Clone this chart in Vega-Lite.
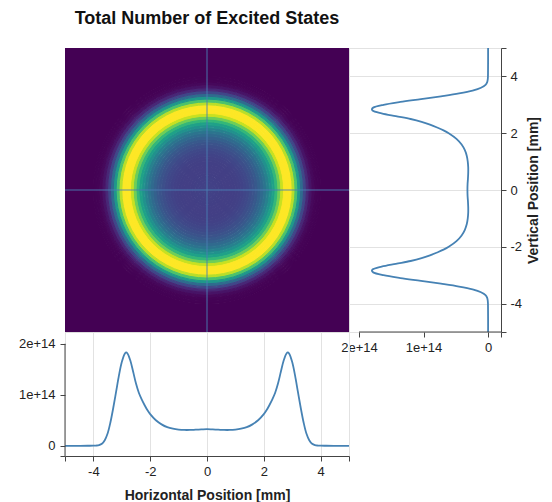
{
  "$schema": "https://vega.github.io/schema/vega-lite/v6.json",
  "padding": {"left": 17, "top": 9, "right": 0, "bottom": 0},
  "config": {
    "font": "Liberation Sans",
    "view": {"stroke": "#ddd"},
    "axis": {"labelFontSize": 13, "labelPadding": 4, "titleFontSize": 14, "titleFontWeight": "bold", "labelColor": "#222", "titleColor": "#222", "domainColor": "#444", "tickColor": "#444", "gridColor": "#e2e2e2", "tickSize": 5}
  },
  "datasets": {
    "rings": [
      {"r0": 0.0, "r1": 0.1, "v": 3.3e13}, {"r0": 0.1, "r1": 0.2, "v": 3.28e13}, {"r0": 0.2, "r1": 0.3, "v": 3.25e13},
      {"r0": 0.3, "r1": 0.4, "v": 3.2e13}, {"r0": 0.4, "r1": 0.5, "v": 3.17e13}, {"r0": 0.5, "r1": 0.6, "v": 3.13e13},
      {"r0": 0.6, "r1": 0.7, "v": 3.1e13}, {"r0": 0.7, "r1": 0.8, "v": 3.1e13}, {"r0": 0.8, "r1": 0.9, "v": 3.1e13},
      {"r0": 0.9, "r1": 1.0, "v": 3.13e13}, {"r0": 1.0, "r1": 1.1, "v": 3.18e13}, {"r0": 1.1, "r1": 1.2, "v": 3.25e13},
      {"r0": 1.2, "r1": 1.3, "v": 3.35e13}, {"r0": 1.3, "r1": 1.4, "v": 3.5e13}, {"r0": 1.4, "r1": 1.5, "v": 3.7e13},
      {"r0": 1.5, "r1": 1.6, "v": 4.0e13}, {"r0": 1.6, "r1": 1.7, "v": 4.3e13}, {"r0": 1.7, "r1": 1.8, "v": 4.7e13},
      {"r0": 1.8, "r1": 1.9, "v": 5.2e13}, {"r0": 1.9, "r1": 2.0, "v": 5.8e13}, {"r0": 2.0, "r1": 2.1, "v": 6.5e13},
      {"r0": 2.1, "r1": 2.2, "v": 7.4e13}, {"r0": 2.2, "r1": 2.3, "v": 8.5e13}, {"r0": 2.3, "r1": 2.4, "v": 9.7e13},
      {"r0": 2.4, "r1": 2.5, "v": 1.13e14}, {"r0": 2.5, "r1": 2.6, "v": 1.33e14}, {"r0": 2.6, "r1": 2.7, "v": 1.56e14},
      {"r0": 2.7, "r1": 2.8, "v": 1.75e14}, {"r0": 2.8, "r1": 2.9, "v": 1.83e14}, {"r0": 2.9, "r1": 3.0, "v": 1.74e14},
      {"r0": 3.0, "r1": 3.1, "v": 1.52e14}, {"r0": 3.1, "r1": 3.2, "v": 1.22e14}, {"r0": 3.2, "r1": 3.3, "v": 9.0e13},
      {"r0": 3.3, "r1": 3.4, "v": 5.9e13}, {"r0": 3.4, "r1": 3.5, "v": 3.5e13}, {"r0": 3.5, "r1": 3.6, "v": 1.8e13},
      {"r0": 3.6, "r1": 3.7, "v": 8e12}, {"r0": 3.7, "r1": 3.8, "v": 3e12}, {"r0": 3.8, "r1": 3.9, "v": 1e12},
      {"r0": 3.9, "r1": 4.0, "v": 3e11}, {"r0": 4.0, "r1": 7.2, "v": 0}
    ],
    "hprof": [
      {"x": -5, "v": 0}, {"x": -4.6, "v": 0}, {"x": -4.2, "v": 1e11}, {"x": -4.0, "v": 2e11}, {"x": -3.9, "v": 5e11},
      {"x": -3.8, "v": 1.4e12}, {"x": -3.7, "v": 4e12}, {"x": -3.6, "v": 1.1e13}, {"x": -3.5, "v": 2.4e13}, {"x": -3.4, "v": 4.6e13},
      {"x": -3.3, "v": 7.45e13}, {"x": -3.2, "v": 1.06e14}, {"x": -3.1, "v": 1.38e14}, {"x": -3.0, "v": 1.64e14}, {"x": -2.9, "v": 1.8e14},
      {"x": -2.85, "v": 1.83e14}, {"x": -2.8, "v": 1.81e14}, {"x": -2.7, "v": 1.67e14}, {"x": -2.6, "v": 1.45e14}, {"x": -2.5, "v": 1.22e14},
      {"x": -2.4, "v": 1.04e14}, {"x": -2.3, "v": 9.1e13}, {"x": -2.2, "v": 8.0e13}, {"x": -2.1, "v": 7.0e13}, {"x": -2.0, "v": 6.2e13},
      {"x": -1.8, "v": 5.0e13}, {"x": -1.6, "v": 4.2e13}, {"x": -1.4, "v": 3.65e13}, {"x": -1.2, "v": 3.35e13}, {"x": -1.0, "v": 3.18e13},
      {"x": -0.8, "v": 3.1e13}, {"x": -0.6, "v": 3.1e13}, {"x": -0.4, "v": 3.15e13}, {"x": -0.2, "v": 3.2e13}, {"x": 0, "v": 3.25e13},
      {"x": 0.2, "v": 3.2e13}, {"x": 0.4, "v": 3.15e13}, {"x": 0.6, "v": 3.1e13}, {"x": 0.8, "v": 3.1e13}, {"x": 1.0, "v": 3.18e13},
      {"x": 1.2, "v": 3.35e13}, {"x": 1.4, "v": 3.65e13}, {"x": 1.6, "v": 4.2e13}, {"x": 1.8, "v": 5.0e13}, {"x": 2.0, "v": 6.2e13},
      {"x": 2.1, "v": 7.0e13}, {"x": 2.2, "v": 8.0e13}, {"x": 2.3, "v": 9.1e13}, {"x": 2.4, "v": 1.04e14}, {"x": 2.5, "v": 1.22e14},
      {"x": 2.6, "v": 1.45e14}, {"x": 2.7, "v": 1.67e14}, {"x": 2.8, "v": 1.81e14}, {"x": 2.85, "v": 1.83e14}, {"x": 2.9, "v": 1.8e14},
      {"x": 3.0, "v": 1.64e14}, {"x": 3.1, "v": 1.38e14}, {"x": 3.2, "v": 1.06e14}, {"x": 3.3, "v": 7.45e13}, {"x": 3.4, "v": 4.6e13},
      {"x": 3.5, "v": 2.4e13}, {"x": 3.6, "v": 1.1e13}, {"x": 3.7, "v": 4e12}, {"x": 3.8, "v": 1.4e12}, {"x": 3.9, "v": 5e11},
      {"x": 4.0, "v": 2e11}, {"x": 4.2, "v": 1e11}, {"x": 4.6, "v": 0}, {"x": 5, "v": 0}
    ],
    "vprof": [
      {"y": -5, "v": 0}, {"y": -4.6, "v": 0}, {"y": -4.2, "v": 1e11}, {"y": -4.0, "v": 2e11}, {"y": -3.9, "v": 5e11},
      {"y": -3.8, "v": 1.4e12}, {"y": -3.7, "v": 4e12}, {"y": -3.6, "v": 1.1e13}, {"y": -3.5, "v": 2.4e13}, {"y": -3.4, "v": 4.5e13},
      {"y": -3.3, "v": 7.3e13}, {"y": -3.2, "v": 1.04e14}, {"y": -3.1, "v": 1.36e14}, {"y": -3.0, "v": 1.62e14}, {"y": -2.9, "v": 1.78e14},
      {"y": -2.85, "v": 1.8e14}, {"y": -2.8, "v": 1.79e14}, {"y": -2.7, "v": 1.65e14}, {"y": -2.6, "v": 1.43e14}, {"y": -2.5, "v": 1.2e14},
      {"y": -2.4, "v": 1.03e14}, {"y": -2.3, "v": 9.0e13}, {"y": -2.2, "v": 7.9e13}, {"y": -2.1, "v": 6.9e13}, {"y": -2.0, "v": 6.1e13},
      {"y": -1.8, "v": 4.9e13}, {"y": -1.6, "v": 4.1e13}, {"y": -1.4, "v": 3.6e13}, {"y": -1.2, "v": 3.3e13}, {"y": -1.0, "v": 3.15e13},
      {"y": -0.8, "v": 3.08e13}, {"y": -0.6, "v": 3.08e13}, {"y": -0.4, "v": 3.12e13}, {"y": -0.2, "v": 3.18e13}, {"y": 0, "v": 3.2e13},
      {"y": 0.2, "v": 3.18e13}, {"y": 0.4, "v": 3.12e13}, {"y": 0.6, "v": 3.08e13}, {"y": 0.8, "v": 3.08e13}, {"y": 1.0, "v": 3.15e13},
      {"y": 1.2, "v": 3.3e13}, {"y": 1.4, "v": 3.6e13}, {"y": 1.6, "v": 4.1e13}, {"y": 1.8, "v": 4.9e13}, {"y": 2.0, "v": 6.1e13},
      {"y": 2.1, "v": 6.9e13}, {"y": 2.2, "v": 7.9e13}, {"y": 2.3, "v": 9.0e13}, {"y": 2.4, "v": 1.03e14}, {"y": 2.5, "v": 1.2e14},
      {"y": 2.6, "v": 1.43e14}, {"y": 2.7, "v": 1.65e14}, {"y": 2.8, "v": 1.79e14}, {"y": 2.85, "v": 1.8e14}, {"y": 2.9, "v": 1.78e14},
      {"y": 3.0, "v": 1.62e14}, {"y": 3.1, "v": 1.36e14}, {"y": 3.2, "v": 1.04e14}, {"y": 3.3, "v": 7.3e13}, {"y": 3.4, "v": 4.5e13},
      {"y": 3.5, "v": 2.4e13}, {"y": 3.6, "v": 1.1e13}, {"y": 3.7, "v": 4e12}, {"y": 3.8, "v": 1.4e12}, {"y": 3.9, "v": 5e11},
      {"y": 4.0, "v": 2e11}, {"y": 4.2, "v": 1e11}, {"y": 4.6, "v": 0}, {"y": 5, "v": 0}
    ],
    "cross": [{"pos": 0}]
  },
  "spacing": 0,
  "bounds": "flush",
  "columns": 2,
  "concat": [
    {
      "width": 284,
      "height": 284,
      "title": {"text": "Total Number of Excited States", "fontSize": 18, "fontWeight": "bold", "anchor": "middle", "offset": 20, "color": "#111"},
      "layer": [
        {
          "data": {"name": "rings"},
          "mark": {"type": "arc", "theta": 0, "theta2": 6.2832, "clip": true, "strokeWidth": 1},
          "encoding": {
            "x": {"datum": 0, "type": "quantitative", "scale": {"domain": [-5, 5], "nice": false, "zero": false}, "axis": null},
            "y": {"datum": 0, "type": "quantitative", "scale": {"domain": [-5, 5], "nice": false, "zero": false}, "axis": null},
            "radius": {"field": "r1", "type": "quantitative", "scale": {"type": "linear", "domain": [0, 5], "range": [0, 142], "zero": true}},
            "radius2": {"field": "r0"},
            "fill": {"field": "v", "type": "quantitative", "scale": {"scheme": "viridis", "domain": [0, 1.7e14], "clamp": true}, "legend": null},
            "stroke": {"field": "v", "type": "quantitative", "scale": {"scheme": "viridis", "domain": [0, 1.7e14], "clamp": true}, "legend": null}
          }
        },
        {
          "data": {"name": "cross"},
          "mark": {"type": "rule", "color": "#4a80b4", "strokeWidth": 1, "opacity": 0.9},
          "encoding": {"x": {"field": "pos", "type": "quantitative", "axis": null}}
        },
        {
          "data": {"name": "cross"},
          "mark": {"type": "rule", "color": "#4a80b4", "strokeWidth": 1, "opacity": 0.9},
          "encoding": {"y": {"field": "pos", "type": "quantitative", "axis": null}}
        }
      ]
    },
    {
      "width": 152,
      "height": 284,
      "layer": [
        {
          "data": {"name": "vprof"},
          "mark": {"type": "line", "color": "steelblue", "strokeWidth": 1.8, "interpolate": "catmull-rom"},
          "encoding": {
            "x": {"field": "v", "type": "quantitative", "scale": {"domain": [-2e13, 2.155e14], "reverse": true, "nice": false, "zero": false},
              "axis": {"values": [-2e13, 0, 1e14, 2e14], "labelExpr": "datum.value < 0 ? '' : datum.value == 0 ? '0' : format(datum.value, '.0e')", "grid": false, "domain": false, "title": null}},
            "y": {"field": "y", "type": "quantitative", "scale": {"domain": [-5, 5], "nice": false, "zero": false},
              "axis": {"orient": "right", "values": [-5, -4, -2, 0, 2, 4, 5], "labelExpr": "abs(datum.value) > 4.5 ? '' : '' + datum.value", "title": "Vertical Position [mm]", "titleAngle": 270, "titleBaseline": "top", "titlePadding": 5, "grid": true}},
            "order": {"field": "y", "type": "quantitative"}
          }
        },
        {
          "data": {"values": [{}]},
          "mark": {"type": "rule", "color": "#444", "strokeWidth": 1},
          "encoding": {
            "x": {"datum": -2e13, "type": "quantitative"},
            "x2": {"datum": 2e14},
            "y": {"datum": -5, "type": "quantitative"}
          }
        }
      ]
    },
    {
      "width": 284,
      "height": 124,
      "layer": [
        {
          "data": {"name": "hprof"},
          "mark": {"type": "line", "color": "steelblue", "strokeWidth": 1.8, "interpolate": "catmull-rom"},
          "encoding": {
            "x": {"field": "x", "type": "quantitative", "scale": {"domain": [-5, 5], "nice": false, "zero": false},
              "axis": {"values": [-5, -4, -2, 0, 2, 4, 5], "labelExpr": "abs(datum.value) > 4.5 ? '' : '' + datum.value", "title": "Horizontal Position [mm]", "titlePadding": 10, "grid": true}},
            "y": {"field": "v", "type": "quantitative", "scale": {"domain": [-2e13, 2.23e14], "nice": false, "zero": false},
              "axis": {"values": [-2e13, 0, 1e14, 2e14], "labelExpr": "datum.value < 0 ? '' : datum.value == 0 ? '0' : format(datum.value, '.0e')", "labelPadding": 5, "grid": false, "domain": false, "title": null}}
          }
        },
        {
          "data": {"values": [{}]},
          "mark": {"type": "rule", "color": "#444", "strokeWidth": 1},
          "encoding": {
            "x": {"datum": -5, "type": "quantitative"},
            "y": {"datum": -2e13, "type": "quantitative"},
            "y2": {"datum": 2e14}
          }
        }
      ]
    }
  ]
}
